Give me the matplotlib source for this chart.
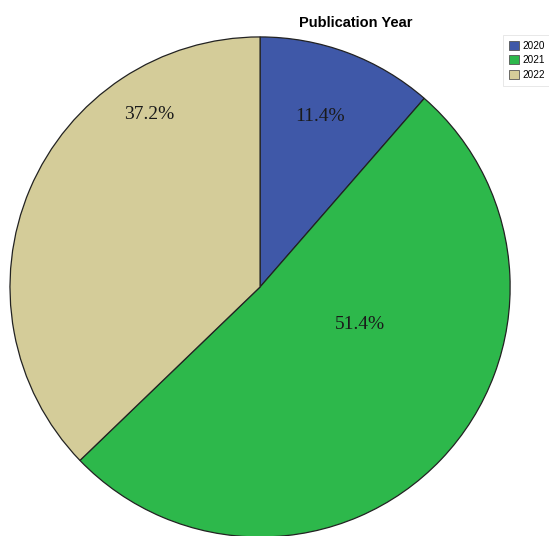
import matplotlib.pyplot as plt
import matplotlib.patches as mpatches

years = ['2020', '2021', '2022']
shares = [11.4, 51.4, 37.2]
colors = ['#3F58A8', '#2DB84B', '#D4CC99']
# label spots in pie units (radius = 1), as placed in the original
label_xy = [(0.24, 0.68), (0.40, -0.15), (-0.444, 0.69)]

fig = plt.figure(figsize=(5.49, 5.36), dpi=100)
ax = fig.add_axes([0.0182, -0.0019, 0.911, 0.933])

wedges, _ = ax.pie(shares, colors=colors, startangle=90, counterclock=False,
                   wedgeprops=dict(edgecolor='#222222', linewidth=0.9))
ax.set_xlim(-1, 1)
ax.set_ylim(-1, 1)
ax.set_aspect('auto')

for (x, y), v in zip(label_xy, shares):
    ax.text(x, y, f'{v:.1f}%', ha='center', va='center',
            fontsize=14, family='Liberation Serif', color='#1a1a1a')

fig.text(0.648, 0.958, 'Publication Year', ha='center', va='center',
         fontsize=10.5, fontweight='bold', family='Liberation Sans')

handles = [mpatches.Patch(facecolor=c, edgecolor='#555555', linewidth=0.6) for c in colors]
leg = fig.legend(handles, years, loc='upper left', bbox_to_anchor=(0.922, 0.93),
                 frameon=True, handlelength=1.0, handleheight=1.0,
                 handletextpad=0.3, labelspacing=0.45, borderpad=0.3,
                 borderaxespad=0, prop={'family': 'Liberation Sans', 'size': 7.2})
leg.get_frame().set_edgecolor('#dddddd')
leg.get_frame().set_linewidth(0.6)
leg.get_frame().set_boxstyle('square')

fig.savefig('out.png', dpi=100)
